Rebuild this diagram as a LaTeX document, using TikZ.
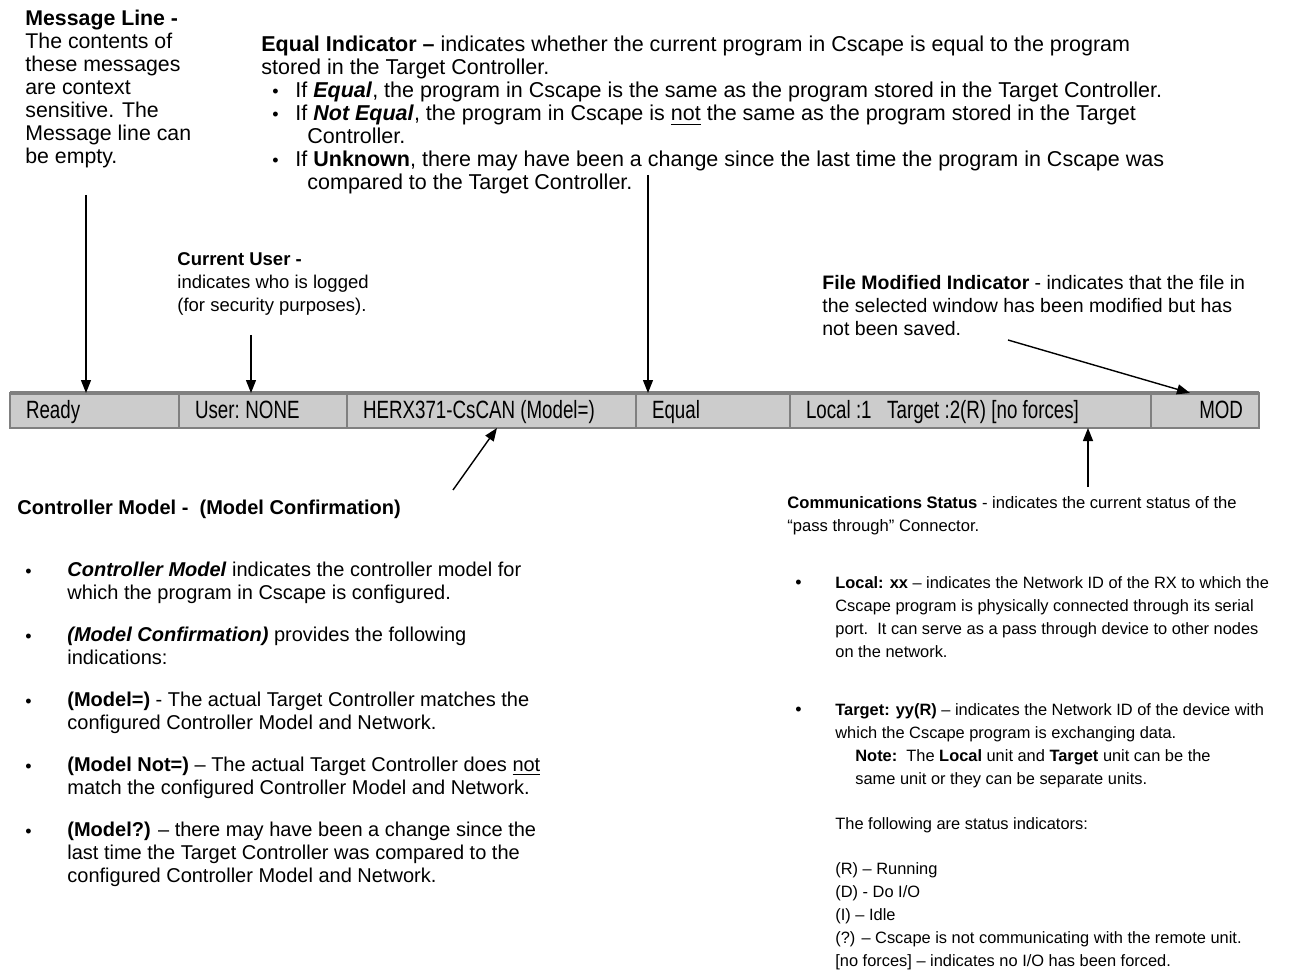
\documentclass[tikz,border=0pt]{standalone}
\usepackage{fontspec}
\setmainfont{Liberation Sans}
\newfontfamily\barfont[FakeStretch=0.75]{Liberation Sans}
\newcommand\barspacing{\spaceskip=2.6pt plus 1pt\relax\xspaceskip=2.8pt plus 1pt\relax}
\usepackage{xcolor}
\usetikzlibrary{arrows.meta,positioning,calc}
\definecolor{barfill}{HTML}{CCCCCC}
\definecolor{barline}{HTML}{808080}
\tikzset{
  cell/.style={rectangle, draw=barline, line width=0.75pt, fill=barfill, anchor=north west,
               minimum height=17.5pt, inner xsep=8pt, inner ysep=0pt, outer sep=0pt,
               text height=9.5pt, text depth=2pt, align=left,
               font=\barfont\fontsize{12.5}{14}\selectfont,
               execute at begin node=\barspacing},
  ar/.style={-{Triangle[length=6.5pt,width=5pt]}, line width=0.7pt}
}
\begin{document}
\begin{tikzpicture}[
  x=0.5pt, y=-0.5pt,
  txt/.style={anchor=north west, align=left, inner sep=0pt, font=\fontsize{#1}{11.5}\selectfont},
  txt/.default=10,
  dot/.style={anchor=north west, inner sep=0pt, text height=#1, font=\fontsize{9}{11.5}\selectfont},
  dot/.default=7.3pt
]
\useasboundingbox (0,0) rectangle (1298,979);
% ---- status bar ----
\node[cell, text width=68.5pt] (ready) at (10,393) {Ready};
\node[cell, text width=68pt, right=0pt of ready] (user) {User: NONE};
\node[cell, text width=128.5pt, right=0pt of user] (model) {HERX371-CsCAN (Model=)};
\node[cell, text width=61pt, right=0pt of model] (equal) {Equal};
\node[cell, text width=164.5pt, right=0pt of equal] (comm) {Local :1\ \ \ Target :2(R) [no forces]};
\node[cell, text width=38pt, align=right, right=0pt of comm] (mod) {MOD};
\draw[barline, line width=2pt] (ready.north west) -- (mod.north east);
% ---- notes above the bar ----
\node[txt=10.65] (msg) at (25,10) {\textbf{Message Line -}\\The contents of\\these messages\\are context\\sensitive. The\\Message line can\\be empty.};
\node[txt=10.75] (eqhead) at (261,36) {\textbf{Equal Indicator --} indicates whether the current program in Cscape is equal to the program\\stored in the Target Controller.};
\node[dot=7.8pt] (eb1) at (272,82) {\textbullet};
\node[txt=10.75] (eq1) at (295,82) {If \textbf{\textit{Equal}}, the program in Cscape is the same as the program stored in the Target Controller.};
\node[dot=7.8pt] (eb2) at (272,105) {\textbullet};
\node[txt=10.75] (eq2) at (295,105) {If \textbf{\textit{Not Equal}}, the program in Cscape is \underline{not} the same as the program stored in the Target\\\hspace*{6pt}Controller.};
\node[dot=7.8pt] (eb3) at (272,151) {\textbullet};
\node[txt=10.75] (eq3) at (295,151) {If \textbf{Unknown}, there may have been a change since the last time the program in Cscape was\\\hspace*{6pt}compared to the Target Controller.};
\node[txt=9.25] (cuser) at (177,252) {\textbf{Current User -}\\indicates who is logged\\(for security purposes).};
\node[txt=9.75] (fmod) at (822,275) {\textbf{File Modified Indicator} - indicates that the file in\\the selected window has been modified but has\\not been saved.};
% ---- notes below the bar ----
\node[txt] (cmhead) at (17,500) {\textbf{Controller Model -\ \ (Model Confirmation)}};
\node[dot] (cb1) at (25,562) {\textbullet};
\node[txt] (cm1) at (67,562) {\textbf{\textit{Controller Model}} indicates the controller model for\\which the program in Cscape is configured.};
\node[dot] (cb2) at (25,627) {\textbullet};
\node[txt] (cm2) at (67,627) {\textbf{\textit{(Model Confirmation)}} provides the following\\indications:};
\node[dot] (cb3) at (25,692) {\textbullet};
\node[txt] (cm3) at (67,692) {\textbf{(Model=)} - The actual Target Controller matches the\\configured Controller Model and Network.};
\node[dot] (cb4) at (25,757) {\textbullet};
\node[txt] (cm4) at (67,757) {\textbf{(Model Not=)} -- The actual Target Controller does \underline{not}\\match the configured Controller Model and Network.};
\node[dot] (cb5) at (25,822) {\textbullet};
\node[txt] (cm5) at (67,822) {\textbf{(Model?)} -- there may have been a change since the\\last time the Target Controller was compared to the\\configured Controller Model and Network.};
\node[txt=8.3] (cshead) at (787,496) {\textbf{Communications Status} - indicates the current status of the\\``pass through'' Connector.};
\node[dot=6.1pt] (sb1) at (795,576) {\textbullet};
\node[txt=8.2] (cs1) at (835,576) {\textbf{Local: xx} -- indicates the Network ID of the RX to which the\\Cscape program is physically connected through its serial\\port.\ \ It can serve as a pass through device to other nodes\\on the network.};
\node[dot=6.1pt] (sb2) at (795,703) {\textbullet};
\node[txt=8.2] (cs2) at (835,703) {\textbf{Target: yy(R)} -- indicates the Network ID of the device with\\which the Cscape program is exchanging data.\\\hspace*{10pt}\textbf{Note:}\ \ The \textbf{Local} unit and \textbf{Target} unit can be the\\\hspace*{10pt}same unit or they can be separate units.};
\node[txt=8.2] (cs3) at (835,817) {The following are status indicators:};
\node[txt=8.2] (cs4) at (835,862) {(R) -- Running\\(D) - Do I/O\\(I) -- Idle\\(?) -- Cscape is not communicating with the remote unit.\\{[no forces]} -- indicates no I/O has been forced.};
% ---- arrows ----
\coordinate (msgtail) at (86,195);
\coordinate (usertail) at (251,335);
\coordinate (eqtail) at (648,175);
\coordinate (modtail) at (1008,340);
\coordinate (cmtail) at (453,490);
\coordinate (cstail) at (1088,487);
\draw[ar] (msgtail) -- (msgtail |- ready.north);
\draw[ar] (usertail) -- (usertail |- user.north);
\draw[ar] (eqtail) -- (eqtail |- equal.north);
\draw[ar] (modtail) -- ($(mod.north west)+(39,0)$);
\draw[ar] (cmtail) -- ($(model.south west)+(150,0)$);
\draw[ar] (cstail) -- (cstail |- comm.south);
\end{tikzpicture}
\end{document}
